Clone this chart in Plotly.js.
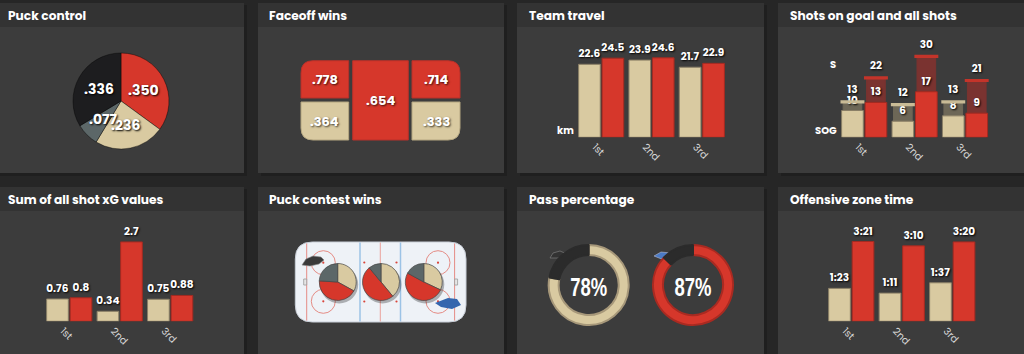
<!DOCTYPE html>
<html><head><meta charset="utf-8">
<script src="https://cdn.plot.ly/plotly-3.0.1.min.js"></script>
<style>html,body{margin:0;padding:0;background:#262626;}#c{width:1024px;height:354px;}</style>
</head><body><div id="c"></div>
<script>
// ---------- data ----------
const periods = ['1st', '2nd', '3rd'];
const travelHome = [22.6, 23.9, 21.7];
const travelAway = [24.5, 24.6, 22.9];
const sogHome = [10, 6, 8];
const sogAway = [13, 17, 9];
const shotsHome = [13, 12, 13];
const shotsAway = [22, 30, 21];
const xgHome = [0.76, 0.34, 0.75];
const xgAway = [0.8, 2.7, 0.88];
const ozHomeSec = [83, 71, 97];     // 1:23 1:11 1:37
const ozAwaySec = [201, 190, 200];  // 3:21 3:10 3:20
const puckControlLabels = ['Away', 'Home', 'Contested', 'Loose'];
const puckControl = [0.350, 0.236, 0.077, 0.336];
const faceoffZones = ['Left top', 'Left bottom', 'Center', 'Right top', 'Right bottom'];
const faceoffVals = [0.778, 0.364, 0.654, 0.714, 0.333];
const faceoffTeam = ['away', 'home', 'away', 'away', 'home'];
const contestZones = ['Zone 1', 'Zone 2', 'Zone 3'];
const contestLabels = ['Home', 'Away', 'None'];
const contestHome = [0.33, 0.39, 0.32];
const contestAway = [0.43, 0.50, 0.51];
const contestNone = [0.24, 0.11, 0.17];
const passTeams = ['Home', 'Away'];
const passPct = [78, 87];
const titles = ['Puck control', 'Faceoff wins', 'Team travel', 'Shots on goal and all shots',
  'Sum of all shot xG values', 'Puck contest wins', 'Pass percentage', 'Offensive zone time'];

// ---------- style ----------
const BEIGE = '#d9caa1', BEIGE_LINE = '#8a7f66', RED = '#d6372b', RED_LINE = '#a32a21';
const SLATE = '#5c6768', BLACK = '#1d1d1f', DARK = '#2b2b2b';
const W = 1024, H = 354;
const X = p => p / W, Y = p => 1 - p / H;
const dec3 = v => v.toFixed(3).replace(/^0/, '');
const mmss = s => Math.floor(s / 60) + ':' + String(s % 60).padStart(2, '0');
const FONT = 'Poppins, Inter, sans-serif';
const labFont = {family: FONT, size: 10.5, color: '#ffffff', weight: 700, shadow: '1px 1px 2px #000'};

const traces = [];
const BW = 0.43, OFF_H = -0.448, OFF_A = 0.018;
function bars(xa, ya, y, color, line, offset, width, text, extra) {
  return Object.assign({type: 'bar', x: periods, y: y, xaxis: xa, yaxis: ya, offset: offset, width: width,
    marker: {color: color, line: {color: line, width: 1}}, text: text, textposition: 'outside',
    textfont: labFont, constraintext: 'none', cliponaxis: false, hoverinfo: 'skip', showlegend: false}, extra || {});
}
// Team travel (x / y)
traces.push(bars('x', 'y', travelHome, BEIGE, BEIGE_LINE, OFF_H, BW, travelHome.map(v => v.toFixed(1))));
traces.push(bars('x', 'y', travelAway, RED, RED_LINE, OFF_A, BW, travelAway.map(v => v.toFixed(1))));
// Shots (x2 / y2)
traces.push(bars('x2', 'y2', shotsHome, '#6d6757', '#6d6757', -0.418, 0.37, null, {textposition: 'none'}));
traces.push(bars('x2', 'y2', shotsAway, '#7a3330', '#7a3330', 0.048, 0.37, null, {textposition: 'none'}));
traces.push(bars('x2', 'y2', sogHome, BEIGE, BEIGE_LINE, OFF_H, BW, sogHome.map(String)));
traces.push(bars('x2', 'y2', sogAway, RED, RED_LINE, OFF_A, BW, sogAway.map(String)));
traces.push(bars('x2', 'y2', shotsHome.map(() => 1.2), '#c9bb96', '#c9bb96', -0.4705, 0.475, shotsHome.map(String),
  {base: shotsHome.map(v => v - 0.4), marker: {color: '#c9bb96', line: {width: 0}}}));
traces.push(bars('x2', 'y2', shotsAway.map(() => 1.2), '#c4342a', '#c4342a', -0.0045, 0.475, shotsAway.map(String),
  {base: shotsAway.map(v => v - 0.4), marker: {color: '#c4342a', line: {width: 0}}}));
// xG (x3 / y3)
traces.push(bars('x3', 'y3', xgHome, BEIGE, BEIGE_LINE, OFF_H, BW, xgHome.map(String)));
traces.push(bars('x3', 'y3', xgAway, RED, RED_LINE, OFF_A, BW, xgAway.map(String)));
// Offensive zone time (x4 / y4)
traces.push(bars('x4', 'y4', ozHomeSec, BEIGE, BEIGE_LINE, OFF_H, BW, ozHomeSec.map(mmss)));
traces.push(bars('x4', 'y4', ozAwaySec, RED, RED_LINE, OFF_A, BW, ozAwaySec.map(mmss)));

// Pies
function sq(cx, cy, r) { return {x: [X(cx - r), X(cx + r)], y: [Y(cy + r), Y(cy - r)]}; }
const PC = [121, 101], PR = 48;
traces.push({type: 'pie', labels: puckControlLabels, values: puckControl, sort: false, direction: 'clockwise',
  marker: {colors: [RED, BEIGE, SLATE, BLACK], line: {color: 'rgba(0,0,0,0.4)', width: 1}},
  textinfo: 'none', domain: sq(PC[0], PC[1], PR), hoverinfo: 'skip', showlegend: false});
const contestCx = [337.7, 381, 423.8];
contestZones.forEach((z, i) => {
  traces.push({type: 'pie', labels: contestLabels, values: [contestHome[i], contestAway[i], contestNone[i]],
    sort: false, direction: 'clockwise', textinfo: 'none',
    marker: {colors: [BEIGE, RED, SLATE], line: {color: 'rgba(70,70,70,0.7)', width: 1}},
    domain: sq(contestCx[i], 282, 18.5), hoverinfo: 'skip', showlegend: false});
});
const passCx = [588.7, 693], passColor = [BEIGE, RED], passRim = ['#a7987a', '#a92a21'];
passTeams.forEach((t, i) => {
  traces.push({type: 'pie', labels: ['Completed', 'Failed'], values: [passPct[i], 100 - passPct[i]], hole: 0.75,
    sort: false, direction: 'clockwise', textinfo: 'none',
    marker: {colors: [passColor[i], DARK], line: {color: [passRim[i], DARK], width: 2}},
    title: {text: passPct[i] + '%', position: 'middle center',
      font: {family: 'Liberation Sans, Arial, sans-serif', size: 25, color: '#fff', weight: 700}},
    domain: sq(passCx[i], 285, 40), hoverinfo: 'skip', showlegend: false});
});

// ---------- shapes ----------
const shapes = [];
const panels = [[-4, 3, 244, 173], [258, 3, 504, 173], [517, 3, 764, 173], [778, 3, 1030, 173],
  [-4, 187, 244, 360], [258, 187, 504, 360], [517, 187, 764, 360], [778, 187, 1030, 360]];
const titleX = [6, 267, 527, 788, 6, 267, 527, 788];
const annotations = [];
panels.forEach((p, i) => {
  shapes.push({type: 'rect', xref: 'paper', yref: 'paper', layer: 'below', x0: X(p[0] + 3), x1: X(p[2] + 3),
    y0: Y(p[3] + 3), y1: Y(p[1] + 2), fillcolor: '#1f1f1f', line: {width: 0}});
  shapes.push({type: 'rect', xref: 'paper', yref: 'paper', layer: 'below', x0: X(p[0]), x1: X(p[2]),
    y0: Y(p[3]), y1: Y(p[1]), fillcolor: '#3c3c3c', line: {width: 0}});
  shapes.push({type: 'rect', xref: 'paper', yref: 'paper', layer: 'below', x0: X(p[0]), x1: X(p[2]),
    y0: Y(p[1] + 24), y1: Y(p[1]), fillcolor: '#333333', line: {width: 0}});
  annotations.push({xref: 'paper', yref: 'paper', x: X(titleX[i]), y: Y(p[1] + 12.5), xanchor: 'left', yanchor: 'middle',
    text: titles[i], showarrow: false, font: {family: FONT, size: 12.2, color: '#ffffff', weight: 700}});
});

// Puck control slice labels at mid-angle of each slice
(function () {
  const tot = puckControl.reduce((a, b) => a + b, 0);
  let cum = 0;
  puckControl.forEach(v => {
    const a = (cum + v / 2) / tot * 2 * Math.PI; cum += v;
    annotations.push({xref: 'x5', yref: 'y5', x: PC[0] + Math.sin(a) * PR * 0.52, y: PC[1] - Math.cos(a) * PR * 0.52,
      text: dec3(v), showarrow: false, font: {family: FONT, size: 14, color: '#fff', weight: 700, shadow: '1px 1px 2px #000'}});
  });
})();

// pixel-space helper axis (x5/y5)
function rr(x0, y0, x1, y1, rtl, rtr, rbr, rbl) { // y grows downward
  return `M${x0 + rtl},${y0} L${x1 - rtr},${y0} Q${x1},${y0} ${x1},${y0 + rtr} L${x1},${y1 - rbr} Q${x1},${y1} ${x1 - rbr},${y1} ` +
    `L${x0 + rbl},${y1} Q${x0},${y1} ${x0},${y1 - rbl} L${x0},${y0 + rtl} Q${x0},${y0} ${x0 + rtl},${y0} Z`;
}
function pshape(o) { return Object.assign({xref: 'x5', yref: 'y5', layer: 'below'}, o); }

// Faceoff grid cells
const cellBox = [[301, 60.7, 348.7, 98], [301, 102, 348.7, 140], [352.7, 60.7, 408.3, 140],
  [412, 60.7, 460, 98], [412, 102, 460, 140]];
const cellR = [[12, 0, 0, 0], [0, 0, 0, 12], [0, 0, 0, 0], [0, 12, 0, 0], [0, 0, 12, 0]];
faceoffVals.forEach((v, i) => {
  const b = cellBox[i], r = cellR[i], home = faceoffTeam[i] === 'home';
  shapes.push(pshape({type: 'path', path: rr(b[0], b[1], b[2], b[3], r[0], r[1], r[2], r[3]),
    fillcolor: home ? BEIGE : RED, line: {color: home ? '#b4a680' : '#b8302a', width: 1}}));
  annotations.push({xref: 'x5', yref: 'y5', x: (b[0] + b[2]) / 2, y: (b[1] + b[3]) / 2, text: dec3(v), showarrow: false,
    font: {family: FONT, size: 13, color: '#fff', weight: 700, shadow: '1px 1px 2px rgba(0,0,0,0.7)'}});
});

// Rink
shapes.push(pshape({type: 'path', path: rr(295.3, 242, 466, 322, 17, 17, 17, 17), fillcolor: '#eef2f7', line: {color: '#c9cfd8', width: 1}}));
[306.7, 454.6].forEach(x => shapes.push(pshape({type: 'line', x0: x, x1: x, y0: 243.5, y1: 320.5, line: {color: '#e58c85', width: 1}})));
[360, 400.5].forEach(x => shapes.push(pshape({type: 'line', x0: x, x1: x, y0: 242.5, y1: 321.5, line: {color: '#9cc3e6', width: 1.5}})));
shapes.push(pshape({type: 'line', x0: 380.3, x1: 380.3, y0: 242.5, y1: 321.5, line: {color: '#eaa29c', width: 1}}));
[[323.3, 262.7], [323.3, 301.3], [438, 262.7], [438, 301.3]].forEach(c => {
  shapes.push(pshape({type: 'circle', x0: c[0] - 12, x1: c[0] + 12, y0: c[1] - 12, y1: c[1] + 12, line: {color: '#e58c85', width: 1}}));
});
[[323.3, 262.7], [323.3, 301.3], [438, 262.7], [438, 301.3], [364.3, 262.5], [364.3, 301.5], [396.5, 262.5], [396.5, 301.5]].forEach(c => {
  shapes.push(pshape({type: 'circle', x0: c[0] - 1.1, x1: c[0] + 1.1, y0: c[1] - 1.1, y1: c[1] + 1.1, fillcolor: '#d9443a', line: {width: 0}}));
});
[[306.7, 1], [454.6, -1]].forEach(g => {
  shapes.push(pshape({type: 'rect', x0: g[0] - (g[1] > 0 ? 3 : 0), x1: g[0] + (g[1] > 0 ? 0 : 3), y0: 279, y1: 285, fillcolor: '#e6e6e6', line: {color: '#9a9a9a', width: 0.8}}));
  shapes.push(pshape({type: 'path', path: `M${g[0]},277.5 A4.5,4.5 0 0 ${g[1] > 0 ? 1 : 0} ${g[0]},286.5 Z`, fillcolor: '#c9c9c9', line: {color: '#8f8f8f', width: 0.8}}));
});
// pie shadows
contestCx.forEach(cx => shapes.push(pshape({type: 'circle', x0: cx - 17.5, x1: cx + 20.5, y0: 282 - 16.5, y1: 282 + 21.5, fillcolor: 'rgba(0,0,0,0.28)', line: {width: 0}})));
// small team marks (logos)
shapes.push(pshape({type: 'path', path: 'M302,265 L306,259 L313,256 L321,257 L324,260 L319,264 L310,266 Z', fillcolor: '#3a3a3a', line: {color: '#888', width: 0.6}}));
shapes.push(pshape({type: 'path', path: 'M435,303 L448,298 L457,299 L461,305 L452,309 L441,307 Z', fillcolor: '#3566ae', line: {width: 0}}));
shapes.push(pshape({type: 'path', path: 'M550,258 L553,253 L560,251 L567,254 L566,258 Z', fillcolor: '#333', line: {color: '#888', width: 0.6}}));
shapes.push(pshape({type: 'path', path: 'M654,256 L661,252 L671,253 L673,259 L664,260 Z', fillcolor: '#4b7ac4', line: {color: '#ccd', width: 0.5}}));

// axis side labels
[['km', 565, 130], ['S', 833, 64], ['SOG', 826, 130]].forEach(a => annotations.push({xref: 'x5', yref: 'y5', x: a[1], y: a[2],
  text: a[0], showarrow: false, font: {family: FONT, size: 10, color: '#fff', weight: 700}}));

// ---------- axes ----------
function xa(x0, x1, anchor) {
  return {domain: [X(x0), X(x1)], anchor: anchor, type: 'category', range: [-0.5, 2.5], showgrid: false, zeroline: false,
    showline: false, ticks: '', tickangle: 45, ticklabelshift: -6, ticklabelstandoff: 1,
    tickfont: {family: FONT, size: 10, color: '#d6d6d6'}, fixedrange: true};
}
function ya(bottom, pxPerUnit, max, anchor) {
  return {domain: [Y(bottom), Y(bottom - pxPerUnit * max)], anchor: anchor, range: [0, max], visible: false, fixedrange: true};
}
const layout = {
  width: W, height: H, margin: {l: 0, r: 0, t: 0, b: 0}, paper_bgcolor: '#262626', plot_bgcolor: 'rgba(0,0,0,0)',
  barmode: 'overlay', showlegend: false, shapes: shapes, annotations: annotations,
  xaxis: xa(576, 727, 'y'), yaxis: ya(137.3, 3.23, 30, 'x'),
  xaxis2: xa(839, 990.2, 'y2'), yaxis2: ya(137.3, 2.68, 36, 'x2'),
  xaxis3: xa(44, 195.4, 'y3'), yaxis3: ya(321.3, 29.4, 3.3, 'x3'),
  xaxis4: xa(826, 977.5, 'y4'), yaxis4: ya(321.3, 0.397, 245, 'x4'),
  xaxis5: {domain: [0, 1], range: [0, W], visible: false, anchor: 'y5', fixedrange: true},
  yaxis5: {domain: [0, 1], range: [H, 0], visible: false, anchor: 'x5', fixedrange: true}
};
traces.push({type: 'scatter', x: [], y: [], xaxis: 'x5', yaxis: 'y5', showlegend: false});
Plotly.newPlot('c', traces, layout, {staticPlot: true, displayModeBar: false}).then(gd => {
  // condensed look for the percentage numbers inside the donuts
  gd.querySelectorAll('text').forEach(t => {
    if (/^\d+%$/.test(t.textContent)) {
      t.setAttribute('textLength', '37');
      t.setAttribute('lengthAdjust', 'spacingAndGlyphs');
    }
  });
});
</script></body></html>
